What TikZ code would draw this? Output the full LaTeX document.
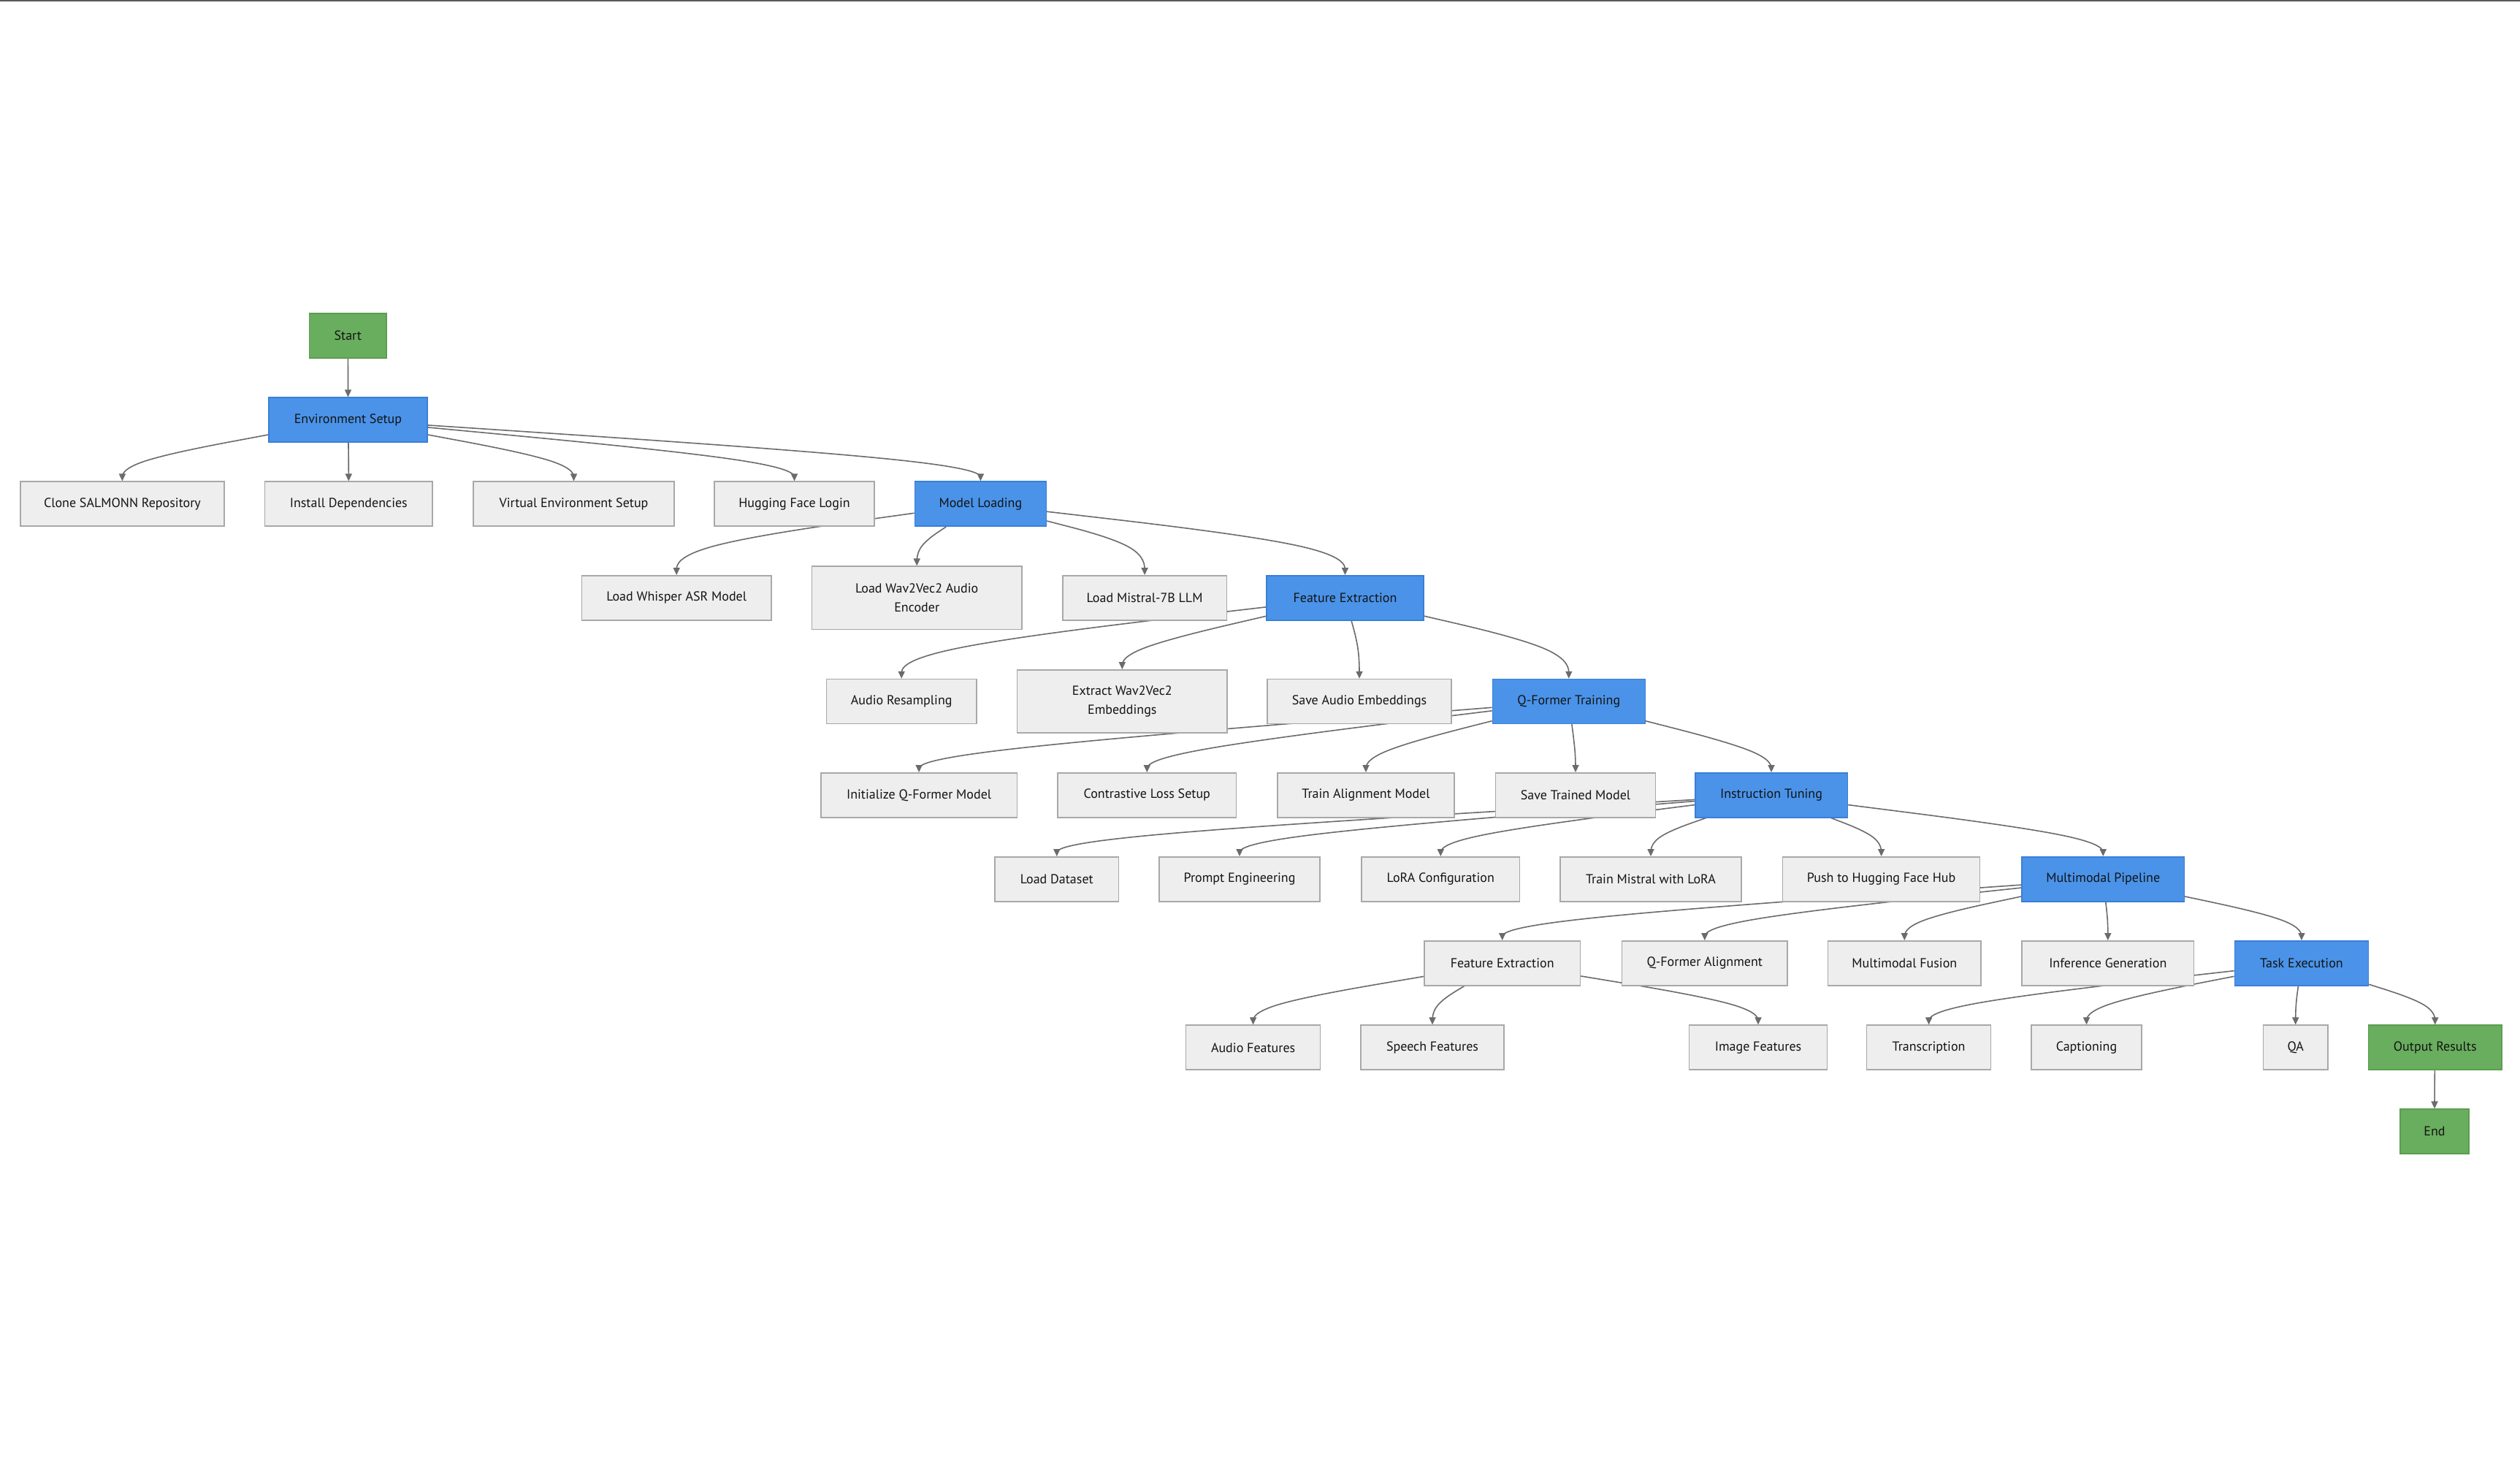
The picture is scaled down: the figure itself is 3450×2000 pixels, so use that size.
\documentclass[tikz,border=0pt]{standalone}
\usepackage{fontspec}
\setmainfont{PT Sans}
\usetikzlibrary{calc,arrows.meta}

\definecolor{procblue}{HTML}{4A93E9}
\definecolor{procblueline}{HTML}{3A7FD6}
\definecolor{termgreen}{HTML}{69AD5E}
\definecolor{termgreenline}{HTML}{5C9E51}
\definecolor{stepgray}{HTML}{EEEEEE}
\definecolor{stepgrayline}{HTML}{A8A8A8}
\definecolor{linkgray}{HTML}{6B6B6B}
\definecolor{labelink}{HTML}{141414}
\definecolor{rulegray}{HTML}{5A5A5A}

\pgfdeclarelayer{paper}
\pgfdeclarelayer{links}
\pgfsetlayers{paper,links,main}

\tikzset{
  box/.style={rectangle, draw, line width=1.5pt, inner sep=0pt, align=center,
    minimum height=61pt, font=\fontsize{18}{26}\selectfont, text=labelink},
  task/.style={box, fill=stepgray, draw=stepgrayline},
  phase/.style={box, fill=procblue, draw=procblueline},
  terminal/.style={box, fill=termgreen, draw=termgreenline},
  tall/.style={minimum height=86.3pt},
  link/.style={draw=linkgray, line width=1.6pt, -{Triangle[length=10pt,width=9pt]}},
}

% Smooth connector: leaves the source towards a bend point that sits
% above the target, halfway between the two rows, then drops onto the
% target's top edge (uniform cubic B-spline through three points).
\newcommand{\flowlink}[3]{%
  \coordinate (bend) at (#2.north |- #3);
  \path (#1) -- (bend) coordinate[pos=0] (p0);
  \draw[link] (#1) -- ($(p0)!0.16667!(bend)$)
    .. controls ($(p0)!0.33333!(bend)$) and ($(p0)!0.66667!(bend)$)
    .. ($0.16667*(p0)+0.66667*(bend)+0.16667*(#2.north)$)
    .. controls ($(bend)!0.33333!(#2.north)$) and ($(bend)!0.66667!(#2.north)$)
    .. ($(bend)!0.83333!(#2.north)$) -- (#2.north);
}

\begin{document}
\begin{tikzpicture}[x=1pt,y=-1pt]
\useasboundingbox (0,0) rectangle (3450,2000);
\begin{pgfonlayer}{paper}
  \fill[white] (0,0) rectangle (3450,2000);
  \draw[rulegray, line width=2pt] (0,1) -- (3450,1);
\end{pgfonlayer}

% rows between which the connectors bend
\coordinate (m12) at (0,517);
\coordinate (m23) at (0,632.2);
\coordinate (m34) at (0,747.5);
\coordinate (m45) at (0,889);
\coordinate (m56) at (0,1030.7);
\coordinate (m67) at (0,1145.8);
\coordinate (m78) at (0,1260.8);
\coordinate (m89) at (0,1375.8);
\coordinate (m910) at (0,1491);

% ---- nodes ----
\node[terminal, minimum width=105.5pt] (start) at (476.3,459.5) {Start};
\node[phase, minimum width=217pt] (env) at (476.5,574.7) {Environment Setup};

\node[task, minimum width=279.3pt] (clone) at (167.4,689.7) {Clone SALMONN Repository};
\node[task, minimum width=229.5pt] (install) at (477.3,689.7) {Install Dependencies};
\node[task, minimum width=275pt] (venv) at (785.5,689.7) {Virtual Environment Setup};
\node[task, minimum width=219pt] (hflogin) at (1087.5,689.7) {Hugging Face Login};
\node[phase, minimum width=180pt] (loadmodels) at (1342.4,689.7) {Model Loading};

\node[task, minimum width=259.6pt] (whisper) at (926.2,818.3) {Load Whisper ASR Model};
\node[task, tall, minimum width=287.5pt] (wavenc) at (1255.2,818.3) {Load Wav2Vec2 Audio\\Encoder};
\node[task, minimum width=224.7pt] (mistral) at (1567.1,818.3) {Load Mistral-7B LLM};
\node[phase, minimum width=215pt] (featx) at (1841.5,818.3) {Feature Extraction};

\node[task, minimum width=205.6pt] (resample) at (1234.2,960) {Audio Resampling};
\node[task, tall, minimum width=287.4pt] (wavemb) at (1536.3,960) {Extract Wav2Vec2\\Embeddings};
\node[task, minimum width=252pt] (saveemb) at (1861,960) {Save Audio Embeddings};
\node[phase, minimum width=209pt] (qformer) at (2147.8,960) {Q-Former Training};

\node[task, minimum width=268.7pt] (initqf) at (1258.1,1088.3) {Initialize Q-Former Model};
\node[task, minimum width=244.6pt] (contrast) at (1570.3,1088.3) {Contrastive Loss Setup};
\node[task, minimum width=242pt] (trainalign) at (1870,1088.3) {Train Alignment Model};
\node[task, minimum width=219pt] (savetrained) at (2157,1088.3) {Save Trained Model};
\node[phase, minimum width=208.5pt] (instruct) at (2425,1088.3) {Instruction Tuning};

\node[task, minimum width=169.5pt] (dataset) at (1446.8,1203.3) {Load Dataset};
\node[task, minimum width=220pt] (prompt) at (1697,1203.3) {Prompt Engineering};
\node[task, minimum width=216.6pt] (lora) at (1972.3,1203.3) {LoRA Configuration};
\node[task, minimum width=248pt] (trainlora) at (2260,1203.3) {Train Mistral with LoRA};
\node[task, minimum width=270pt] (pushhub) at (2575.6,1203.3) {Push to Hugging Face Hub};
\node[phase, minimum width=222.3pt] (pipeline) at (2879.2,1203.3) {Multimodal Pipeline};

\node[task, minimum width=213.5pt] (featx2) at (2056.7,1318.3) {Feature Extraction};
\node[task, minimum width=226.5pt] (qfalign) at (2333.8,1318.3) {Q-Former Alignment};
\node[task, minimum width=209.5pt] (fusion) at (2607.3,1318.3) {Multimodal Fusion};
\node[task, minimum width=235.5pt] (inference) at (2885.8,1318.3) {Inference Generation};
\node[phase, minimum width=183pt] (taskexec) at (3150.9,1318.3) {Task Execution};

\node[task, minimum width=184pt] (audiofeat) at (1715.6,1433.7) {Audio Features};
\node[task, minimum width=196pt] (speechfeat) at (1961,1433.7) {Speech Features};
\node[task, minimum width=188.8pt] (imagefeat) at (2407,1433.7) {Image Features};
\node[task, minimum width=170pt] (transcribe) at (2640.6,1433.7) {Transcription};
\node[task, minimum width=151pt] (caption) at (2856.5,1433.7) {Captioning};
\node[task, minimum width=88.6pt] (qa) at (3142.7,1433.7) {QA};
\node[terminal, minimum width=182.7pt] (output) at (3333.7,1433.7) {Output Results};

\node[terminal, minimum width=94pt] (finish) at (3333,1548.7) {End};

% ---- connectors (behind the boxes) ----
\begin{pgfonlayer}{links}
\flowlink{start}{env}{m12}
\flowlink{env}{clone}{m23}
\flowlink{env}{install}{m23}
\flowlink{env}{venv}{m23}
\flowlink{env}{hflogin}{m23}
\flowlink{env}{loadmodels}{m23}
\flowlink{loadmodels}{whisper}{m34}
\flowlink{loadmodels}{wavenc}{m34}
\flowlink{loadmodels}{mistral}{m34}
\flowlink{loadmodels}{featx}{m34}
\flowlink{featx}{resample}{m45}
\flowlink{featx}{wavemb}{m45}
\flowlink{featx}{saveemb}{m45}
\flowlink{featx}{qformer}{m45}
\flowlink{qformer}{initqf}{m56}
\flowlink{qformer}{contrast}{m56}
\flowlink{qformer}{trainalign}{m56}
\flowlink{qformer}{savetrained}{m56}
\flowlink{qformer}{instruct}{m56}
\flowlink{instruct}{dataset}{m67}
\flowlink{instruct}{prompt}{m67}
\flowlink{instruct}{lora}{m67}
\flowlink{instruct}{trainlora}{m67}
\flowlink{instruct}{pushhub}{m67}
\flowlink{instruct}{pipeline}{m67}
\flowlink{pipeline}{featx2}{m78}
\flowlink{pipeline}{qfalign}{m78}
\flowlink{pipeline}{fusion}{m78}
\flowlink{pipeline}{inference}{m78}
\flowlink{pipeline}{taskexec}{m78}
\flowlink{featx2}{audiofeat}{m89}
\flowlink{featx2}{speechfeat}{m89}
\flowlink{featx2}{imagefeat}{m89}
\flowlink{taskexec}{transcribe}{m89}
\flowlink{taskexec}{caption}{m89}
\flowlink{taskexec}{qa}{m89}
\flowlink{taskexec}{output}{m89}
\flowlink{output}{finish}{m910}
\end{pgfonlayer}
\end{tikzpicture}
\end{document}
